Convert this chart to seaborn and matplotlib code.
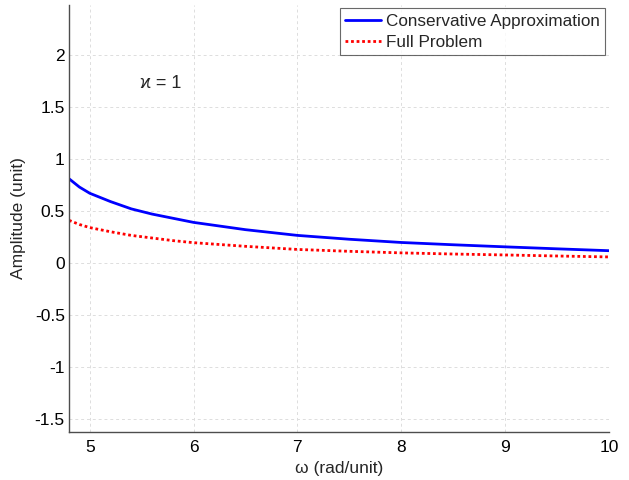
import pandas as pd
import matplotlib.pyplot as plt
import seaborn as sns

# frequency samples
omega = [4.8, 4.9, 5.0, 5.2, 5.4, 5.6, 5.8, 6.0, 6.5, 7.0, 7.5, 8.0, 8.5, 9.0, 9.5, 10.0]
conservative = [0.81, 0.73, 0.67, 0.59, 0.52, 0.47, 0.43, 0.39, 0.32, 0.265, 0.228, 0.197,
                0.175, 0.155, 0.136, 0.118]
full_problem = [0.41, 0.37, 0.34, 0.30, 0.265, 0.24, 0.215, 0.195, 0.16, 0.13, 0.112, 0.097,
                0.086, 0.077, 0.067, 0.058]

x_ticks = [5, 6, 7, 8, 9, 10]
y_ticks = [-1.5, -1, -0.5, 0, 0.5, 1, 1.5, 2]


def style_axes(ax):
    for side in ["top", "right"]:
        ax.spines[side].set_visible(False)
    for side in ["left", "bottom"]:
        ax.spines[side].set_color("#4d4d4d")
        ax.spines[side].set_linewidth(1.0)
    ax.tick_params(direction="in", length=4, width=1, color="#777777",
                   labelsize=12.5, labelcolor="black", pad=6)
    ax.tick_params(axis="y", pad=3)
    ax.grid(True, color="#dddddd", linestyle=(0, (3, 3)), linewidth=0.7)


sns.set_theme(style="white")
plt.rcParams["font.family"] = ["Liberation Sans", "DejaVu Sans"]

fig = plt.figure(figsize=(6.29, 4.8), dpi=100)
ax = fig.add_axes([0.1097, 0.1, 0.968 - 0.1097, 0.9896 - 0.1])

df = pd.DataFrame({"omega": omega, "Conservative Approximation": conservative,
                   "Full Problem": full_problem})

sns.lineplot(data=df, x="omega", y="Conservative Approximation", ax=ax,
             color="#0000ff", linewidth=2.0, label="Conservative Approximation")
sns.lineplot(data=df, x="omega", y="Full Problem", ax=ax,
             color="#ff0000", linewidth=2.0, linestyle=(0, (1, 1)), label="Full Problem")

ax.set_xlim(4.8, 10)
ax.set_ylim(-1.625, 2.48)
ax.set_xticks(x_ticks)
ax.set_yticks(y_ticks)
ax.set_yticklabels(["-1.5", "-1", "-0.5", "0", "0.5", "1", "1.5", "2"])
style_axes(ax)

ax.set_xlabel("\u03c9 (rad/unit)", fontsize=12.5, labelpad=4)
ax.set_ylabel("Amplitude (unit)", fontsize=12.5, labelpad=6)

ax.text(5.48, 1.73, "\u03f0 = 1", fontsize=13, ha="left", va="center",
        family=["Liberation Sans", "DejaVu Sans"])

leg = ax.legend(loc="upper right", fontsize=12.3, frameon=True, fancybox=False,
                edgecolor="#444444", handlelength=2.1, borderpad=0.3,
                labelspacing=0.35, handletextpad=0.3, borderaxespad=0.2)
leg.get_frame().set_linewidth(0.8)

fig.savefig("out.png", dpi=100)
